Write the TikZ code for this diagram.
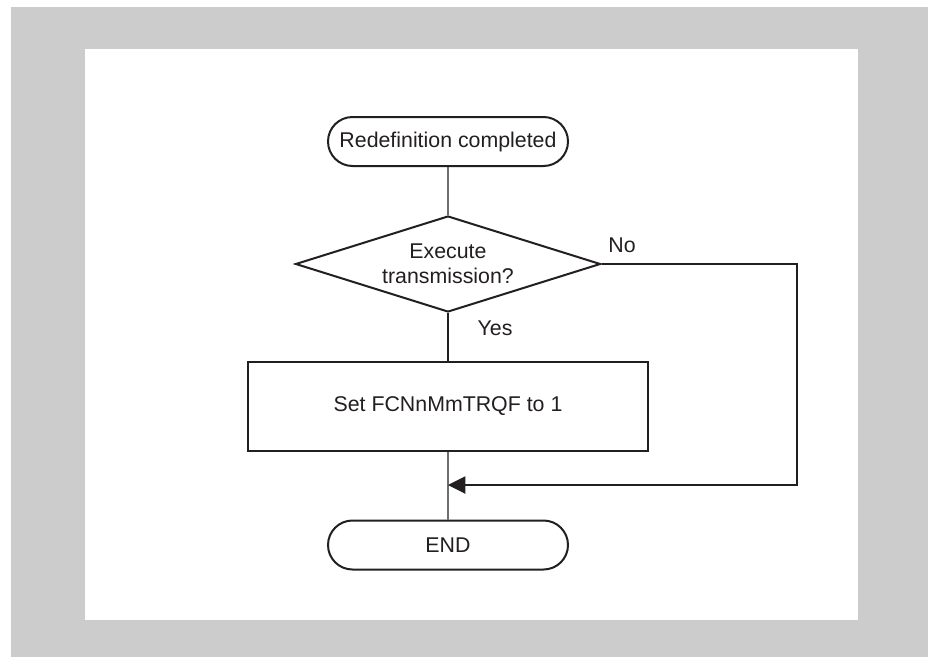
\documentclass[tikz,border=0pt]{standalone}
\usepackage{fontspec}
\setmainfont{Liberation Sans}
\usepackage{xcolor}
\usepackage{tikz}
\usetikzlibrary{shapes.geometric,shapes.misc,arrows.meta}
\definecolor{ink}{HTML}{231F20}
\definecolor{frame}{HTML}{CCCCCC}

\begin{document}
\begin{tikzpicture}[x=0.75pt,y=-0.75pt,
    font=\fontsize{16}{18.75}\selectfont,text=ink,
    terminal/.style={draw=ink,line width=1.5pt,rounded rectangle,
      minimum width=180pt,minimum height=36.75pt,inner sep=0pt},
    decision/.style={draw=ink,line width=1.5pt,diamond,aspect=3.2,
      minimum width=228.75pt,minimum height=72pt,inner sep=0pt,align=center},
    process/.style={draw=ink,line width=1.5pt,rectangle,
      minimum width=300pt,minimum height=66.75pt,inner sep=0pt},
    flow/.style={draw=ink,line width=0.8pt}]
  \useasboundingbox (0,0) rectangle (928,657);
  \fill[frame] (11,7) rectangle (928,657);
  \fill[white] (85,49) rectangle (858,620);

  \node[terminal] (start) at (448,141.5) {Redefinition completed};
  \node[decision] (ask) at (448,264) {Execute\\transmission?};
  \node[process] (setflag) at (448,406.5) {Set FCNnMmTRQF to 1};
  \node[terminal] (finish) at (448,545) {END};
  \node (yes) at (495,328) {Yes};
  \node (no) at (622,245) {No};
  \coordinate (noright) at (797,264);
  \coordinate (nodown) at (797,485);
  \coordinate (merge) at (448,485);

  \draw[flow] (start) -- (ask);
  \draw[flow] (ask) -- (setflag);
  \draw[flow] (setflag) -- (finish);
  \draw[flow,-{Triangle[length=13pt,width=13pt]}] (ask.east) -- (noright) -- (nodown) -- (merge);
\end{tikzpicture}
\end{document}
